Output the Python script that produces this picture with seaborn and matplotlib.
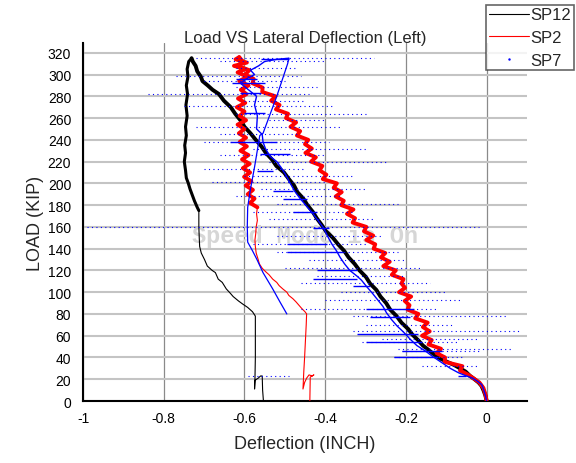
import matplotlib
matplotlib.use("Agg")
import matplotlib.pyplot as plt
from matplotlib.lines import Line2D
from matplotlib.ticker import MultipleLocator, FixedLocator, FixedFormatter
import seaborn as sns

# ---------------- data: lateral deflection (inch) vs load (kip) ----------------
# SP12 : loading branch, upper return branch, lower return branch
sp12_rise_load = [0, 5, 10, 14, 17, 20, 23, 27, 30, 33, 36, 39, 43, 47, 51, 56, 61, 66, 72, 78,
                  84, 90, 96, 102, 108, 114, 120, 126, 132, 138, 144, 150, 156, 162, 168, 174,
                  180, 186, 192, 198, 204, 210, 216, 222, 228, 234, 240, 246, 252, 258, 264,
                  270, 276, 282, 286, 290, 294, 298, 303, 308, 312, 315]
sp12_rise_defl = [0.0, -0.003, -0.008, -0.013, -0.020, -0.030, -0.041, -0.052, -0.066, -0.080,
                  -0.098, -0.115, -0.131, -0.144, -0.158, -0.170, -0.184, -0.194, -0.211, -0.223,
                  -0.239, -0.249, -0.263, -0.273, -0.289, -0.299, -0.315, -0.327, -0.342, -0.353,
                  -0.368, -0.381, -0.398, -0.409, -0.421, -0.431, -0.444, -0.454, -0.469, -0.477,
                  -0.490, -0.502, -0.521, -0.532, -0.547, -0.558, -0.572, -0.585, -0.600, -0.610,
                  -0.623, -0.634, -0.651, -0.663, -0.679, -0.691, -0.704, -0.708, -0.717, -0.721,
                  -0.728, -0.731]
sp12_back_load = [315, 312, 305, 298, 290, 282, 272, 262, 252, 244, 235, 228, 220, 212, 205,
                  200, 195, 189, 184, 178, 175]
sp12_back_defl = [-0.731, -0.738, -0.742, -0.740, -0.744, -0.741, -0.745, -0.742, -0.746,
                  -0.744, -0.748, -0.746, -0.749, -0.746, -0.744, -0.739, -0.735, -0.729,
                  -0.724, -0.717, -0.713]
sp12_tail_load = [175, 168, 160, 150, 142, 136, 130, 124, 120, 118, 112, 109, 103, 99, 96, 92,
                  89, 86, 82, 78, 60, 40, 20, 11, 19, 21, 23, 23, 10, 0]
sp12_tail_defl = [-0.713, -0.713, -0.713, -0.712, -0.711, -0.707, -0.699, -0.692, -0.680,
                  -0.672, -0.665, -0.655, -0.645, -0.635, -0.628, -0.615, -0.604, -0.592,
                  -0.580, -0.573, -0.573, -0.573, -0.574, -0.575, -0.574, -0.566, -0.560,
                  -0.556, -0.555, -0.553]

# SP2
sp2_rise_load = [0, 6, 12, 17, 21, 24, 28, 32, 36, 40, 44, 48, 52, 56, 60, 64, 68, 72, 76, 80,
                 84, 88, 92, 96, 100, 104, 108, 112, 116, 120, 124, 128, 132, 136, 140, 144,
                 148, 152, 156, 160, 164, 168, 172, 176, 180, 184, 188, 192, 196, 200, 204,
                 208, 212, 216, 220, 224, 228, 232, 236, 240, 244, 248, 252, 256, 260, 264,
                 268, 272, 276, 280, 284, 288, 292, 296, 300, 304, 308, 312, 316]
sp2_rise_defl = [0.0, -0.003, -0.008, -0.018, -0.033, -0.045, -0.066, -0.060, -0.104, -0.103,
                 -0.124, -0.113, -0.144, -0.136, -0.160, -0.141, -0.158, -0.146, -0.177, -0.169,
                 -0.196, -0.191, -0.203, -0.187, -0.217, -0.202, -0.211, -0.206, -0.235, -0.225,
                 -0.256, -0.240, -0.262, -0.251, -0.280, -0.276, -0.298, -0.281, -0.304, -0.298,
                 -0.332, -0.326, -0.346, -0.330, -0.360, -0.354, -0.374, -0.359, -0.379, -0.371,
                 -0.406, -0.397, -0.414, -0.407, -0.435, -0.423, -0.449, -0.433, -0.450, -0.442,
                 -0.470, -0.462, -0.486, -0.472, -0.497, -0.492, -0.522, -0.513, -0.534, -0.523,
                 -0.556, -0.555, -0.580, -0.577, -0.598, -0.588, -0.617, -0.604, -0.613]
sp2_back_load = [316, 314, 311, 308, 305, 302, 298, 294, 290, 286, 282, 278, 274, 270, 266,
                 262, 258, 254, 250, 246, 242, 238, 234, 230, 226, 222, 218, 214, 210, 206,
                 202, 198, 194, 190, 186, 182, 178]
sp2_back_defl = [-0.613, -0.622, -0.594, -0.626, -0.598, -0.617, -0.593, -0.613, -0.590,
                 -0.609, -0.595, -0.616, -0.598, -0.619, -0.600, -0.612, -0.596, -0.617,
                 -0.600, -0.614, -0.596, -0.612, -0.594, -0.610, -0.590, -0.606, -0.587,
                 -0.604, -0.586, -0.601, -0.583, -0.597, -0.579, -0.592, -0.575, -0.586, -0.568]
sp2_tail_load = [178, 172, 166, 160, 154, 148, 142, 136, 130, 126, 122, 119, 116, 112, 109,
                 106, 103, 100, 97, 94, 91, 88, 85, 82, 80, 70, 55, 40, 27, 11, 17, 21, 24,
                 23, 24, 22, 0]
sp2_tail_defl = [-0.568, -0.570, -0.568, -0.571, -0.572, -0.574, -0.573, -0.571, -0.566,
                 -0.563, -0.556, -0.548, -0.539, -0.530, -0.520, -0.514, -0.505, -0.495,
                 -0.490, -0.480, -0.472, -0.465, -0.458, -0.450, -0.446, -0.447, -0.449,
                 -0.451, -0.453, -0.455, -0.451, -0.446, -0.440, -0.432, -0.428, -0.437,
                 -0.438]

# SP7 : main trace
sp7_rise_load = [0, 5, 10, 15, 18, 21, 23, 26, 30, 35, 41, 46, 51, 57, 63, 69, 75, 81, 87, 93,
                 99, 105, 111, 115, 120, 126, 132, 138, 144, 150, 156, 160, 167, 173, 179, 186,
                 193, 201, 208, 215, 220, 225, 232, 238, 245, 250, 262, 272, 280, 286, 292,
                 296, 300, 304, 308, 312, 314, 315]
sp7_rise_defl = [0.0, -0.003, -0.007, -0.012, -0.022, -0.035, -0.050, -0.070, -0.090, -0.110,
                 -0.134, -0.152, -0.173, -0.190, -0.205, -0.222, -0.236, -0.248, -0.257, -0.270,
                 -0.283, -0.297, -0.310, -0.322, -0.339, -0.352, -0.363, -0.372, -0.383, -0.392,
                 -0.400, -0.406, -0.420, -0.432, -0.446, -0.462, -0.476, -0.488, -0.498, -0.510,
                 -0.520, -0.537, -0.548, -0.554, -0.556, -0.570, -0.568, -0.575, -0.570, -0.590,
                 -0.610, -0.595, -0.575, -0.585, -0.565, -0.550, -0.520, -0.490]
sp7_back_load = [315, 310, 280, 246, 244, 215, 195, 178, 160, 146, 138, 130, 118, 103, 91, 80]
sp7_back_defl = [-0.490, -0.493, -0.520, -0.554, -0.562, -0.575, -0.585, -0.592, -0.593,
                 -0.592, -0.580, -0.569, -0.554, -0.530, -0.512, -0.495]

# SP7 : scattered readings (load level, left and right deflection)
sp7_trace_load = [315, 312, 306, 299, 294, 289, 282, 276, 271, 264, 258, 252, 245, 238, 232,
                  226, 220, 213, 207, 201, 195, 188, 181, 174, 167, 160, 152, 144, 137, 130,
                  122, 115, 108, 100, 93, 85, 78, 70, 64, 57, 54, 48, 46, 40, 32, 23, 0]
sp7_trace_left = [-0.72, -0.66, -0.62, -0.77, -0.70, -0.62, -0.84, -0.60, -0.75, -0.62, -0.54,
                  -0.72, -0.66, -0.70, -0.58, -0.66, -0.54, -0.70, -0.60, -0.68, -0.56, -0.62,
                  -0.52, -0.58, -0.54, -0.99, -0.52, -0.58, -0.52, -0.44, -0.50, -0.42, -0.46,
                  -0.36, -0.40, -0.46, -0.33, -0.30, -0.33, -0.26, -0.31, -0.22, -0.21, -0.23,
                  -0.16, -0.59, -0.68]
sp7_trace_right = [-0.28, -0.40, -0.47, -0.46, -0.50, -0.42, -0.44, -0.45, -0.38, -0.30, -0.40,
                   -0.36, -0.47, -0.39, -0.30, -0.40, -0.25, -0.45, -0.33, -0.40, -0.30, -0.36,
                   -0.22, -0.33, -0.28, -0.02, -0.26, -0.30, -0.22, -0.20, -0.16, -0.20, -0.14,
                   -0.10, -0.06, -0.12, 0.05, -0.08, 0.08, -0.02, -0.07, 0.06, -0.02, -0.06,
                   -0.02, -0.49, -0.13]
sp7_bar_load = [314, 296, 292, 283, 265, 238, 227, 211, 193, 186, 174, 159, 144, 137, 120, 112,
                106, 85, 77, 62, 54, 46, 40, 23]
sp7_bar_left = [-0.56, -0.62, -0.63, -0.61, -0.60, -0.636, -0.562, -0.57, -0.53, -0.505, -0.48,
                -0.43, -0.495, -0.495, -0.42, -0.43, -0.33, -0.30, -0.29, -0.32, -0.30, -0.21,
                -0.23, -0.07]
sp7_bar_right = [-0.49, -0.57, -0.55, -0.56, -0.55, -0.52, -0.488, -0.53, -0.48, -0.446, -0.42,
                 -0.39, -0.396, -0.356, -0.322, -0.32, -0.29, -0.18, -0.19, -0.17, -0.16, -0.11,
                 -0.12, -0.05]

series_names = ["SP12", "SP2", "SP7"]
series_colors = ["#000000", "#ff0000", "#0000ff"]
x_tick_values = [-1.0, -0.8, -0.6, -0.4, -0.2, 0.0]
x_tick_labels = ["-1", "-0.8", "-0.6", "-0.4", "-0.2", "0"]

# ---------------- figure ----------------
sns.set_style("white")
plt.rcParams["font.family"] = ["Liberation Sans", "DejaVu Sans"]

fig = plt.figure(figsize=(5.76, 4.64), dpi=100)
ax = fig.add_axes([83 / 576, 1 - 402 / 464, 444 / 576, 358 / 464])
ax.set_xlim(-1.0, 0.1)
ax.set_ylim(0, 329)


def trace(defl, load, color, lw, z):
    sns.lineplot(x=defl, y=load, sort=False, estimator=None, color=color,
                 linewidth=lw, ax=ax, zorder=z, legend=False)


black, red, blue = series_colors
trace(sp12_rise_defl, sp12_rise_load, black, 2.8, 3)
trace(sp12_back_defl, sp12_back_load, black, 2.2, 3)
trace(sp12_tail_defl, sp12_tail_load, black, 0.8, 3)

trace(sp2_rise_defl, sp2_rise_load, red, 2.8, 4)
trace(sp2_back_defl, sp2_back_load, red, 2.8, 4)
trace(sp2_tail_defl, sp2_tail_load, red, 0.8, 4)

ax.hlines(sp7_trace_load, sp7_trace_left, sp7_trace_right, colors=blue,
          linestyles=(0, (1, 3)), linewidth=0.8, zorder=5)
ax.hlines(sp7_bar_load, sp7_bar_left, sp7_bar_right, colors=blue,
          linewidth=1.0, zorder=5)
trace(sp7_rise_defl, sp7_rise_load, blue, 1.0, 5)
trace(sp7_back_defl, sp7_back_load, blue, 0.9, 5)

# plot-window watermark
ax.text(-0.45, 146, "Speed Mode is On", family="Liberation Mono", weight="bold",
        fontsize=17, color="#d6d6d6", ha="center", va="baseline", zorder=1)

# ---------------- axes styling ----------------
ax.set_axisbelow(True)
ax.yaxis.set_major_locator(MultipleLocator(20))
ax.yaxis.set_minor_locator(MultipleLocator(10))
ax.xaxis.set_major_locator(FixedLocator(x_tick_values))
ax.xaxis.set_major_formatter(FixedFormatter(x_tick_labels))
ax.xaxis.set_minor_locator(MultipleLocator(0.1))

ax.grid(True, axis="y", which="major", color="#c4c4c4", linewidth=1.5)
ax.grid(True, axis="x", which="major", color="#8a8a8a", linewidth=0.9)

for side in ("top", "right"):
    ax.spines[side].set_visible(False)
for side in ("left", "bottom"):
    ax.spines[side].set_color("black")
    ax.spines[side].set_linewidth(1.5)

ax.tick_params(axis="both", which="both", direction="out", color="black",
               labelsize=10, labelcolor="black", width=1.2)
ax.tick_params(axis="x", which="major", length=3.5, pad=3.5)
ax.tick_params(axis="x", which="minor", length=3.5)
ax.tick_params(axis="y", which="major", length=4.5, pad=4)
ax.tick_params(axis="y", which="minor", length=3.5)

ax.set_xlabel("Deflection (INCH)", fontsize=13, labelpad=7.5)
ax.set_ylabel("LOAD (KIP)", fontsize=13, labelpad=2.5)
ax.set_title("Load VS Lateral Deflection (Left)", fontsize=12, pad=1)

handles = [
    Line2D([], [], color=black, linewidth=0.8),
    Line2D([], [], color=red, linewidth=0.8),
    Line2D([], [], color=blue, linestyle="none", marker=".", markersize=1.5),
]
leg = ax.legend(handles, series_names, loc="upper left",
                bbox_to_anchor=(486 / 576, 1 - 6 / 464), bbox_transform=fig.transFigure,
                frameon=True, fancybox=False, edgecolor="#404040", fontsize=12,
                handlelength=2.4, handletextpad=0.12, labelspacing=0.45,
                borderpad=0.15, borderaxespad=0)
leg.get_frame().set_linewidth(1.2)

fig.savefig("out.png", dpi=100)
